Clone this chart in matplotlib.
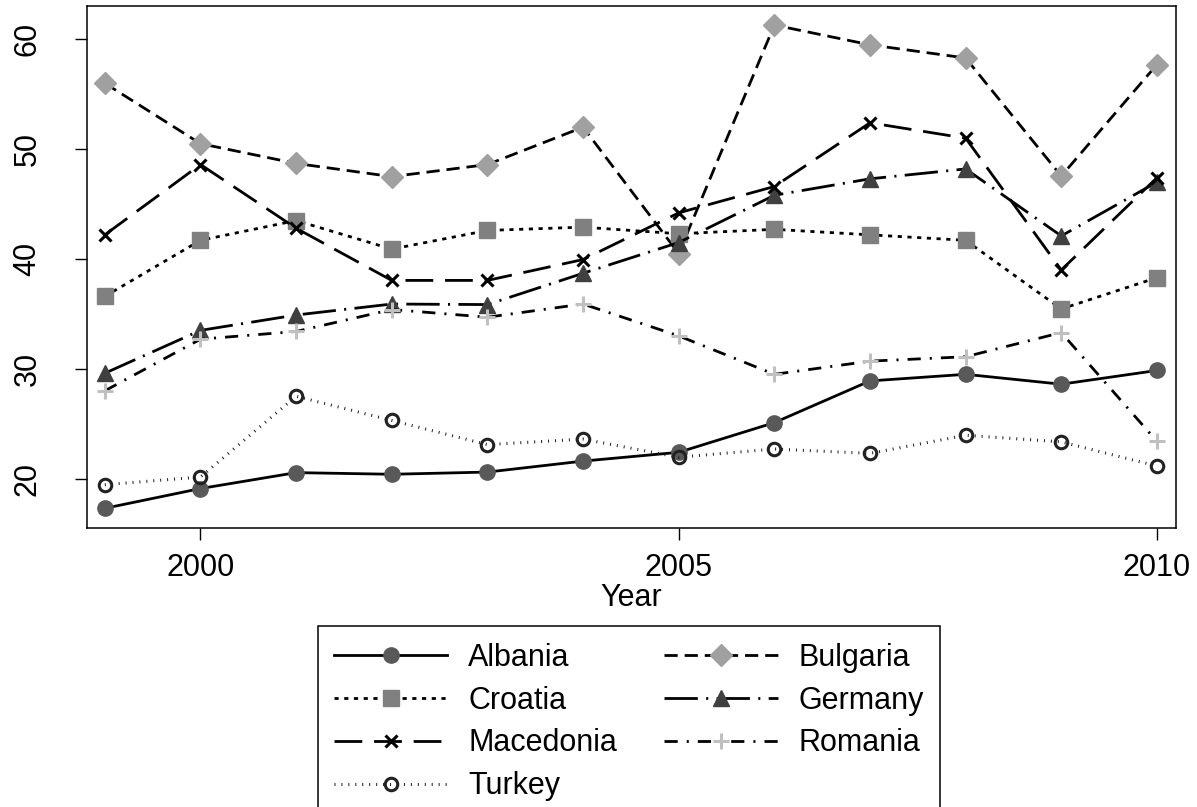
import matplotlib
matplotlib.use("Agg")
import matplotlib.pyplot as plt

plt.rcParams['font.family'] = ['Liberation Sans', 'DejaVu Sans']
plt.rcParams['lines.scale_dashes'] = False

# data
years = [1999, 2000, 2001, 2002, 2003, 2004, 2005, 2006, 2007, 2008, 2009, 2010]
albania = [17.3, 19.1, 20.55, 20.4, 20.6, 21.6, 22.4, 25.1, 28.9, 29.5, 28.6, 29.85]
bulgaria = [56.0, 50.5, 48.7, 47.5, 48.6, 52.0, 40.5, 61.3, 59.5, 58.3, 47.55, 57.7]
croatia = [36.6, 41.7, 43.5, 40.9, 42.6, 42.9, 42.3, 42.7, 42.2, 41.7, 35.45, 38.3]
germany = [29.6, 33.5, 34.9, 35.9, 35.85, 38.7, 41.5, 45.8, 47.3, 48.2, 42.1, 47.0]
macedonia = [42.2, 48.6, 42.8, 38.05, 38.05, 39.95, 44.2, 46.6, 52.4, 51.0, 39.0, 47.4]
romania = [28.0, 32.7, 33.4, 35.4, 34.7, 35.9, 33.0, 29.5, 30.7, 31.1, 33.3, 23.4]
turkey = [19.45, 20.15, 27.5, 25.3, 23.1, 23.6, 21.95, 22.7, 22.3, 23.95, 23.35, 21.15]

x_ticks = [2000, 2005, 2010]
y_ticks = [20, 30, 40, 50, 60]

fig = plt.figure(figsize=(11.97, 8.07), dpi=100)
ax = fig.add_axes([0.0724, 0.3463, 0.9101, 0.6458])

# dash patterns are in points (not scaled by line width)
ax.plot(years, albania, color='black', lw=2, ls='-',
        marker='o', ms=11, mfc='#595959', mec='#595959', label='Albania')
ax.plot(years, bulgaria, color='black', lw=2, ls=(0, (9.5, 5)),
        marker='D', ms=11, mfc='#a0a0a0', mec='#a0a0a0', label='Bulgaria')
ax.plot(years, croatia, color='black', lw=2, ls=(0, (3, 4)),
        marker='s', ms=11, mfc='#808080', mec='#808080', label='Croatia')
ax.plot(years, germany, color='black', lw=2, ls=(0, (24, 6, 1.5, 6)),
        marker='^', ms=12, mfc='#404040', mec='#404040', label='Germany')
ax.plot(years, macedonia, color='black', lw=2, ls=(0, (20, 8.5)),
        marker='x', ms=9, mew=2.2, mec='black', label='Macedonia')
ax.plot(years, romania, color='black', lw=2, ls=(0, (9.5, 6.5, 1.5, 6.5)),
        marker='+', ms=12, mew=2.2, mec='#c0c0c0', label='Romania')
ax.plot(years, turkey, color='#1a1a1a', lw=2.2, ls=(0, (0.7, 4.3)),
        marker='o', ms=9, mew=2.2, mfc='none', mec='#222222', label='Turkey')

ax.set_xlim(1998.81, 2010.2)
ax.set_ylim(15.55, 63.0)
ax.set_xticks(x_ticks)
ax.set_yticks(y_ticks)
ax.tick_params(axis='both', direction='out', length=8.6, width=1, labelsize=22)
ax.tick_params(axis='x', pad=9.5)
ax.tick_params(axis='y', pad=34)
plt.setp(ax.get_yticklabels(), rotation=90, va='center', ha='center')
for sp in ax.spines.values():
    sp.set_linewidth(1.1)

ax.set_xlabel('Year', fontsize=22, labelpad=0)

handles, labels = ax.get_legend_handles_labels()
order = [0, 2, 4, 6, 1, 3, 5]
leg = fig.legend([handles[i] for i in order], [labels[i] for i in order],
                 loc='upper center', bbox_to_anchor=(0.5255, 0.2243), ncol=2,
                 fontsize=22, numpoints=1, handlelength=3.7, handletextpad=0.68,
                 columnspacing=1.55, labelspacing=0.42, borderpad=0.55,
                 borderaxespad=0, fancybox=False, edgecolor='black', framealpha=1)
leg.get_frame().set_linewidth(1.1)

fig.savefig('out.png', dpi=100)
